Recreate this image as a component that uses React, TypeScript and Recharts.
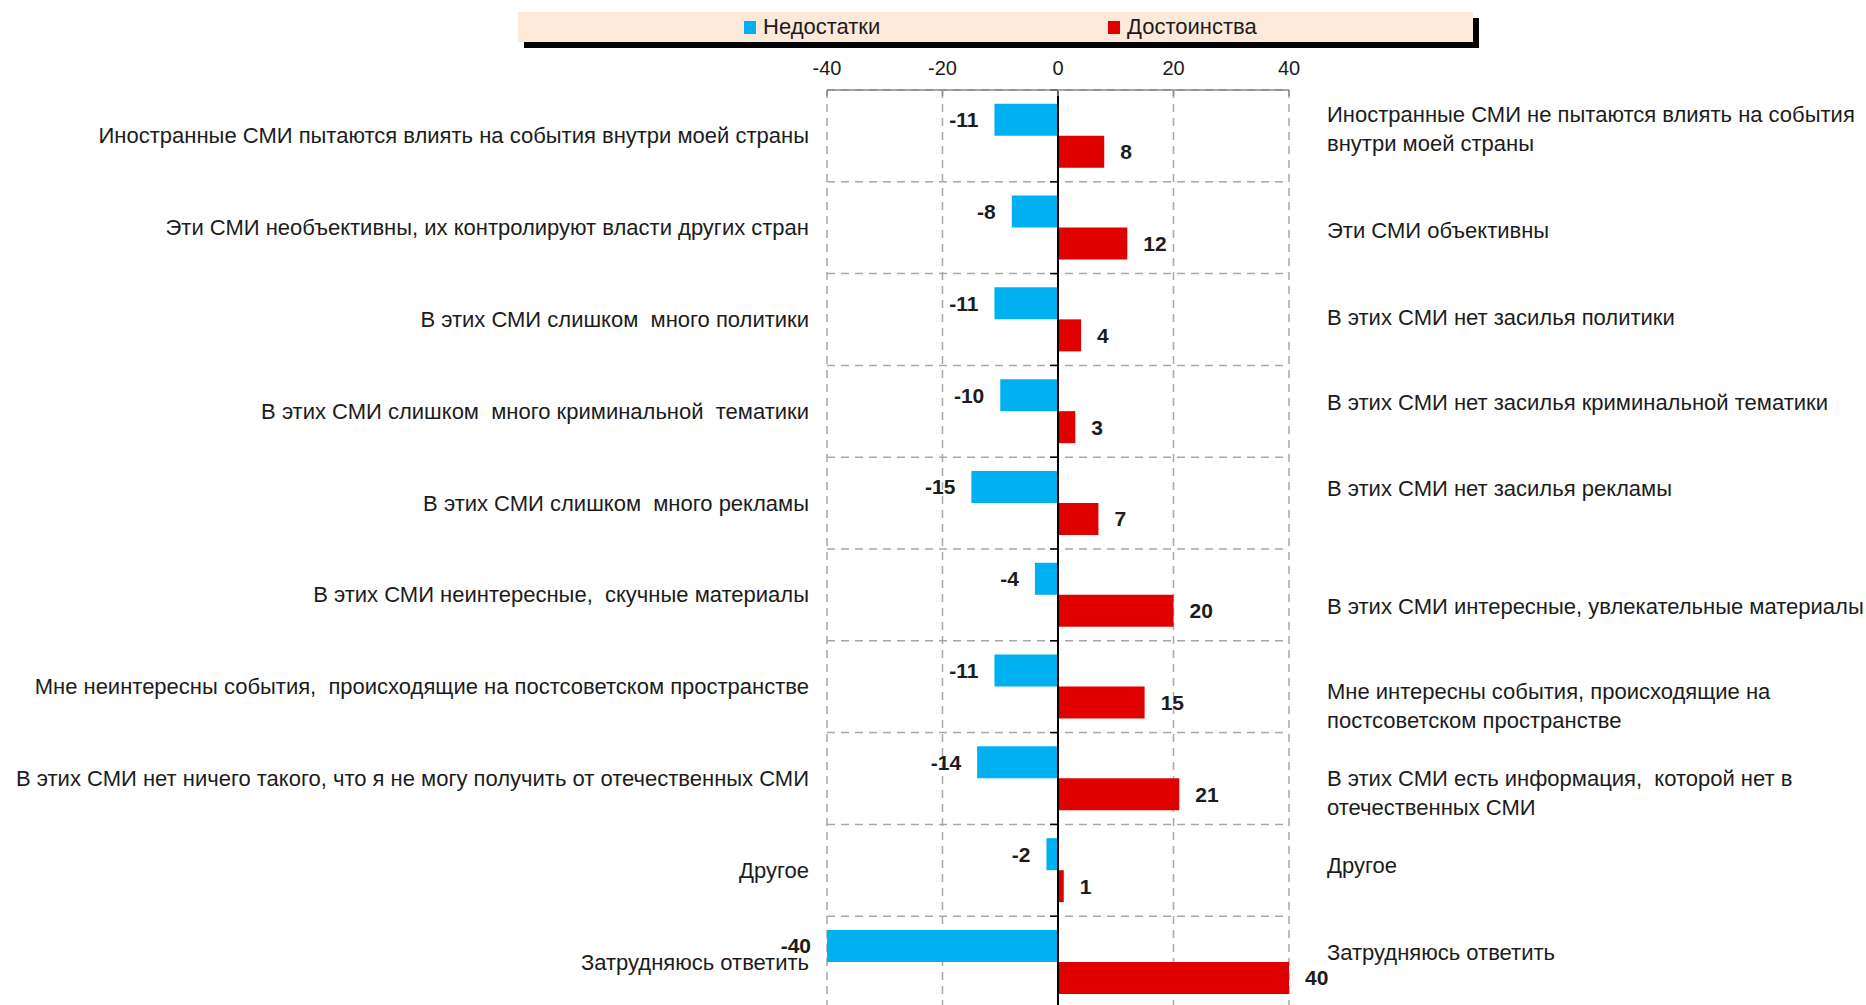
import React from 'react';
import {
  BarChart, Bar, XAxis, YAxis, CartesianGrid, ReferenceLine, LabelList, Legend,
} from 'recharts';

const leftLabels = [
  'Иностранные СМИ пытаются влиять на события внутри моей страны',
  'Эти СМИ необъективны, их контролируют власти других стран',
  'В этих СМИ слишком  много политики',
  'В этих СМИ слишком  много криминальной  тематики',
  'В этих СМИ слишком  много рекламы',
  'В этих СМИ неинтересные,  скучные материалы',
  'Мне неинтересны события,  происходящие на постсоветском пространстве',
  'В этих СМИ нет ничего такого, что я не могу получить от отечественных СМИ',
  'Другое',
  'Затрудняюсь ответить',
];

const rightLabels = [
  'Иностранные СМИ не пытаются влиять на события\nвнутри моей страны',
  'Эти СМИ объективны',
  'В этих СМИ нет засилья политики',
  'В этих СМИ нет засилья криминальной тематики',
  'В этих СМИ нет засилья рекламы',
  'В этих СМИ интересные, увлекательные материалы',
  'Мне интересны события, происходящие на\nпостсоветском пространстве',
  'В этих СМИ есть информация,  которой нет в\nотечественных СМИ',
  'Другое',
  'Затрудняюсь ответить',
];

const negatives = [-11, -8, -11, -10, -15, -4, -11, -14, -2, -40];
const positives = [8, 12, 4, 3, 7, 20, 15, 21, 1, 40];
const valueTicks = [-40, -20, 0, 20, 40];
const seriesNames = ['Недостатки', 'Достоинства'];

// text shifts of the right-hand labels (style only)
const rightShift = [-7, 2, -3, -9, -15, 11, 19, 14, -5, -10];

const data = leftLabels.map((l, i) => ({
  left: l,
  right: rightLabels[i],
  neg: negatives[i],
  pos: positives[i],
}));

const FONT = "'Liberation Sans', Arial, sans-serif";
const TEXT = '#1c1c1c';
const BLUE = '#00B0F0';
const RED = '#E00000';

const LeftTick = (props: any) => {
  const { x, y, payload } = props;
  return (
    <text x={x} y={y} textAnchor="end" dominantBaseline="central" fontFamily={FONT}
      fontSize={22} fill={TEXT} style={{ whiteSpace: 'pre' }}>
      {payload.value}
    </text>
  );
};

const RightTick = (props: any) => {
  const { x, y, payload, index } = props;
  const lines = String(payload.value).split('\n');
  const lh = 29;
  const y0 = y + (rightShift[index] || 0) - ((lines.length - 1) * lh) / 2;
  return (
    <text x={x} y={y0} textAnchor="start" dominantBaseline="central" fontFamily={FONT}
      fontSize={22} fill={TEXT} style={{ whiteSpace: 'pre' }}>
      {lines.map((ln, i) => (
        <tspan key={i} x={x} y={y0 + i * lh}>{ln}</tspan>
      ))}
    </text>
  );
};

const TopTick = (props: any) => {
  const { x, y, payload } = props;
  return (
    <g>
      <text x={x} y={y} textAnchor="middle" fontFamily={FONT} fontSize={20} fill={TEXT}>
        {payload.value}
      </text>
      <line x1={x} x2={x} y1={y + 15} y2={y + 21} stroke="#8a8a8a" strokeWidth={1.5} />
    </g>
  );
};

const LegendBox = (props: any) => {
  const items = [...(props.payload || [])].sort(
    (a: any, b: any) => seriesNames.indexOf(a.value) - seriesNames.indexOf(b.value),
  );
  const pos = [226, 590];
  return (
    <div style={{
      position: 'relative', width: 955, height: 30, background: '#FDE9D9',
      boxShadow: '6px 6px 0 #000', fontFamily: FONT, fontSize: 22, color: TEXT,
    }}>
      {items.map((it: any, i: number) => (
        <div key={i} style={{ position: 'absolute', left: pos[i], top: 0, height: 30, display: 'flex', alignItems: 'center' }}>
          <span style={{ display: 'inline-block', width: 12, height: 13, background: it.color, marginRight: 7 }} />
          <span>{it.value}</span>
        </div>
      ))}
    </div>
  );
};

const N = leftLabels.length;

export default function App() {
  return (
    <div style={{ position: 'fixed', left: 0, top: 0, width: 1866, height: 1005, overflow: 'hidden', background: '#fff' }}>
      <BarChart
        width={1866}
        height={1008}
        data={data}
        layout="vertical"
        margin={{ top: 40, right: 0, bottom: 0, left: 0 }}
        barCategoryGap="15%"
        barGap={0}
      >
        <CartesianGrid
          stroke="#a8a8a8"
          strokeWidth={1.5}
          strokeDasharray="8 6"
          horizontalCoordinatesGenerator={({ offset }: any) =>
            Array.from({ length: N + 1 }, (_, i) => offset.top + (i * offset.height) / N)}
        />
        <CartesianGrid
          stroke="#000"
          strokeWidth={1.5}
          vertical={false}
          x={1050}
          width={8}
          horizontalCoordinatesGenerator={({ offset }: any) =>
            Array.from({ length: N }, (_, i) => offset.top + (i * offset.height) / N)}
        />
        <XAxis
          type="number"
          orientation="top"
          domain={[-40, 40]}
          ticks={valueTicks}
          height={50}
          axisLine={{ stroke: '#8a8a8a', strokeWidth: 1.5 }}
          tickLine={false}
          tickSize={0}
          tickMargin={15}
          tick={<TopTick />}
          interval={0}
        />
        <YAxis
          type="category"
          dataKey="left"
          width={827}
          axisLine={false}
          tickLine={false}
          tickSize={0}
          tickMargin={18}
          tick={<LeftTick />}
          interval={0}
        />
        <YAxis
          yAxisId="r"
          type="category"
          dataKey="right"
          orientation="right"
          width={577}
          axisLine={false}
          tickLine={false}
          tickSize={0}
          tickMargin={38}
          tick={<RightTick />}
          interval={0}
        />
        <Legend
          layout="horizontal"
          verticalAlign="middle"
          align="center"
          content={<LegendBox />}
          wrapperStyle={{ position: 'absolute', top: 12, left: 518, width: 955, height: 30 }}
        />
        <Bar dataKey="neg" name={seriesNames[0]} fill={BLUE} isAnimationActive={false} legendType="square">
          <LabelList dataKey="neg" position="right" offset={16} fill={TEXT} fontFamily={FONT}
            fontSize={21} fontWeight="bold" />
        </Bar>
        <Bar dataKey="pos" name={seriesNames[1]} fill={RED} isAnimationActive={false} legendType="square">
          <LabelList dataKey="pos" position="right" offset={16} fill={TEXT} fontFamily={FONT}
            fontSize={21} fontWeight="bold" />
        </Bar>
        <ReferenceLine x={0} stroke="#000" strokeWidth={2} />
      </BarChart>
    </div>
  );
}
